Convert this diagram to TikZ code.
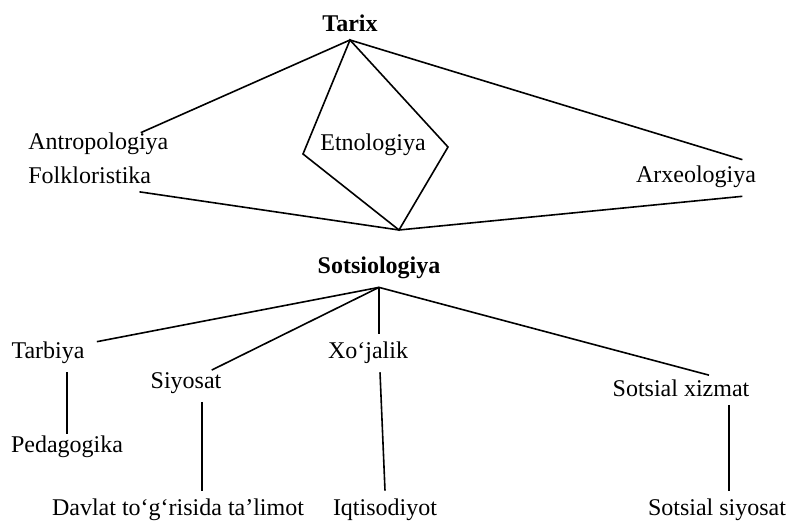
\documentclass[tikz,border=0pt]{standalone}
\usepackage{fontspec}
\setmainfont{Liberation Serif}
\usepackage{tikz}

\tikzset{
	term/.style={inner sep=4pt, font=\fontsize{12}{14}\selectfont},
	link/.style={line width=0.8pt}
}

\begin{document}
\begin{tikzpicture}[x=0.5pt, y=-0.5pt]
	\useasboundingbox (0,0) rectangle (796,522);
	
	\node[term, anchor=south] (tarix) at (350,40)     {\textbf{Tarix}};
	\node[term, anchor=west] (antro) at (20,144)     {Antropologiya};
	\node[term, anchor=west] (folk) at (20,175)     {Folkloristika};
	\node[term] (etno) at (373,145)     {Etnologiya};
	\node[term] (arx) at (696,177)     {Arxeologiya};
	\coordinate (etnoW) at (303,154);
	\coordinate (etnoE) at (448,147);
	\coordinate (meet) at (399,230);
	
	\node[term] (soc) at (379,268)     {\textbf{Sotsiologiya}};
	\node[term] (tarb) at (48,353)     {Tarbiya};
	\node[term] (siy) at (186,383)     {Siyosat};
	\node[term] (xoj) at (368,353)     {Xo‘jalik};
	\node[term] (sx) at (681,388)     {Sotsial xizmat};
	\node[term] (ped) at (67,447)     {Pedagogika};
	\node[term] (dav) at (178,510)     {Davlat to‘g‘risida ta’limot};
	\node[term] (iqt) at (385,510)     {Iqtisodiyot};
	\node[term] (ss) at (717,510)     {Sotsial siyosat};
	
	\draw[link] (tarix.south) -- ([xshift=-18pt,yshift=-4pt]antro.north east);
	\draw[link] (tarix.south) -- ([xshift=-11pt,yshift=-1pt]arx.north east);
	\draw[link] (tarix.south) -- (etnoW) -- (meet) -- (etnoE) -- cycle;
	\draw[link] ([xshift=-10pt]folk.south east) -- (meet);
	\draw[link] ([xshift=-11pt]arx.south east) -- (meet);
	
	\draw[link] (soc.south) -- ([xshift=2pt,yshift=-4pt]tarb.north east);
	\draw[link] (soc.south) -- ([xshift=-9pt,yshift=-3pt]siy.north east);
	\draw[link] (soc.south) -- (soc.south |- xoj.north);
	\draw[link] (soc.south) -- ([xshift=14pt,yshift=-2pt]sx.north);
	
	\draw[link] (tarb.south -| ped.north) -- ([yshift=-3pt]ped.north);
	\draw[link] ([xshift=8pt]siy.south) -- ([xshift=8pt]siy.south |- dav.north);
	\draw[link] ([xshift=6pt]xoj.south) -- (iqt.north);
	\draw[link] ([xshift=6pt]ss.north |- sx.south) -- ([xshift=6pt]ss.north);
	
\end{tikzpicture}
\end{document}
